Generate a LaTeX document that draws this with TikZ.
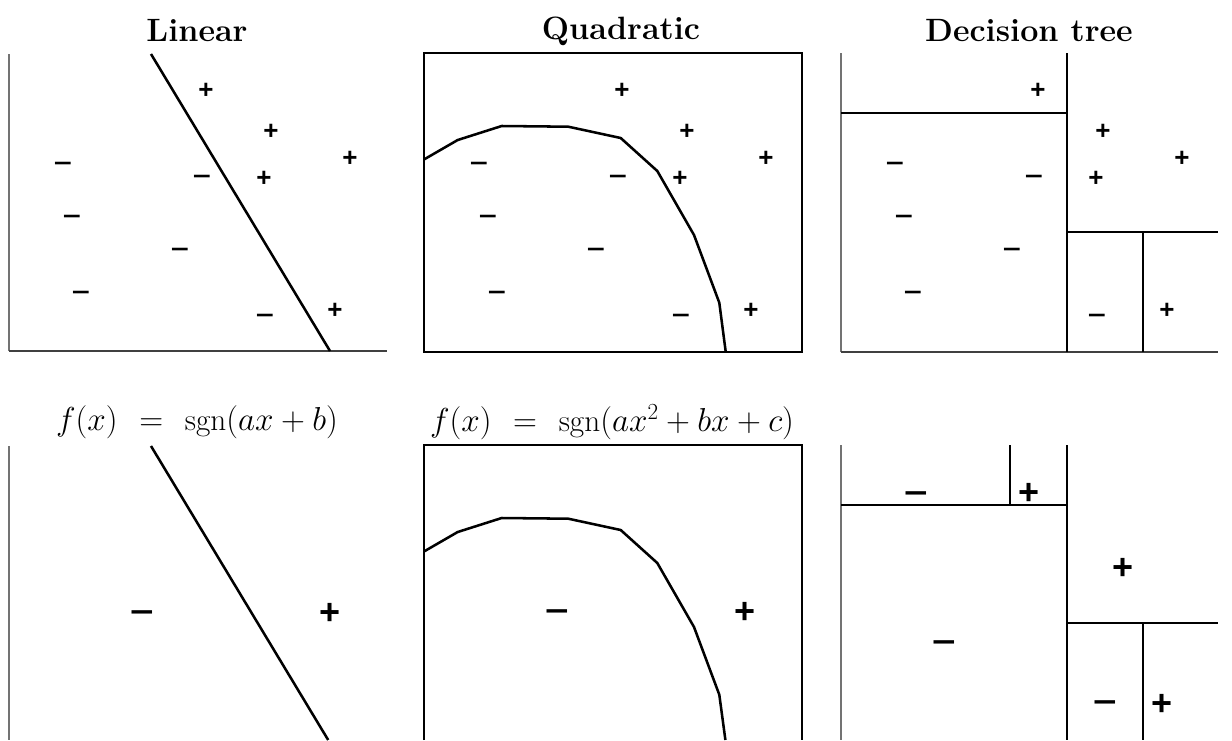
\documentclass[tikz,border=0pt]{standalone}
\usepackage{fontspec}
\newfontfamily\pmfont{Liberation Sans}
\newfontfamily\mnfont[FakeStretch=1.22]{Liberation Sans}
\begin{document}
\begin{tikzpicture}[x=0.75pt,y=-0.75pt,
  pl/.style={font=\fontsize{19.5}{24}\selectfont\pmfont\bfseries, inner sep=0pt, text height=13.7pt, text depth=0pt},
  mn/.style={font=\fontsize{19.5}{24}\selectfont\mnfont\bfseries, inner sep=0pt, text height=10.7pt, text depth=0pt},
  plbig/.style={font=\fontsize{27}{32}\selectfont\pmfont\bfseries, inner sep=0pt, text height=19pt, text depth=0pt},
  mnbig/.style={font=\fontsize{25.5}{30}\selectfont\mnfont\bfseries, inner sep=0pt, text height=14pt, text depth=0pt},
  ttl/.style={font=\fontsize{24.2}{28}\selectfont\bfseries, inner sep=0pt},
  fml/.style={font=\fontsize{23.4}{28}\selectfont, inner sep=0pt},
  axl/.style={draw=black!55, line width=1.1pt},
  axb/.style={draw=black!75, line width=1.1pt},
  bnd/.style={draw=black, line width=1.9pt, line join=round},
  frame/.style={draw=black, line width=1pt},
  cut/.style={draw=black, line width=1.8pt}]
\useasboundingbox (0,0) rectangle (1232,740);

% ---------- titles ----------
\node[ttl] (t1) at (197,31) {Linear};
\node[ttl] (t2) at (621,31) {Quadratic};
\node[ttl] (t3) at (1029,31) {Decision tree};

% ---------- top row: Linear ----------
\draw[axl] (9,54) -- (9,351);
\draw[axb] (9,351) -- (387,351);
\draw[bnd] (151,54) -- (330,351);

% ---------- top row: Quadratic ----------
\draw[frame] (424,53) rectangle (802,352);
\draw[bnd] (424.3,159.3) -- (457.7,140) -- (501.7,126) -- (568.3,126.7) -- (620.7,138)
  -- (657.3,171) -- (694,235) -- (719.3,302.7) -- (725.7,351.7);

% ---------- top row: Decision tree ----------
\draw[axl] (841,53) -- (841,352);
\draw[axb] (841,352) -- (1218,352);
\draw[cut] (1067,53) -- (1067,352);
\draw[cut] (841,113) -- (1067,113);
\draw[cut] (1067,232) -- (1218,232);
\draw[cut] (1143,232) -- (1143,352);

% ---------- sample points (repeated in the three top panels) ----------
\foreach \dx/\p in {0/a,416/b,832/c}{
  \node[pl] (\p p1) at (206+\dx,89)  {+};
  \node[pl] (\p p2) at (271+\dx,130) {+};
  \node[pl] (\p p3) at (350+\dx,157) {+};
  \node[pl] (\p p4) at (264+\dx,177) {+};
  \node[pl] (\p p5) at (335+\dx,309) {+};
  \node[mn] (\p m1) at (63+\dx,163)  {–};
  \node[mn] (\p m2) at (72+\dx,216)  {–};
  \node[mn] (\p m3) at (180+\dx,249) {–};
  \node[mn] (\p m4) at (81+\dx,292)  {–};
  \node[mn] (\p m5) at (202+\dx,176) {–};
  \node[mn] (\p m6) at (265+\dx,315) {–};
}

% ---------- formulas ----------
\node[fml] (f1) at (197,422) {$f(x)\hspace{0.4em}=\hspace{0.4em}\mathrm{sgn}(ax+b)$};
\node[fml] (f2) at (612,422) {$f(x)\hspace{0.4em}=\hspace{0.4em}\mathrm{sgn}(ax^2+bx+c)$};

% ---------- bottom row: Linear ----------
\draw[axl] (9,446) -- (9,740);
\draw[bnd] (151,446) -- (328.2,740);
\node[mnbig] (lm) at (142,612) {–};
\node[plbig] (lp) at (330,612) {+};

% ---------- bottom row: Quadratic ----------
\draw[frame] (424,740) -- (424,445) -- (802,445) -- (802,740);
\draw[bnd] (424.3,551.3) -- (457.7,532) -- (501.7,518) -- (568.3,518.7) -- (620.7,530)
  -- (657.3,563) -- (694,627) -- (719.3,694.7) -- (725.4,740);
\node[mnbig] (qm) at (557,611) {–};
\node[plbig] (qp) at (745,611) {+};

% ---------- bottom row: Decision tree ----------
\draw[axl] (841,445) -- (841,740);
\draw[cut] (1067,445) -- (1067,740);
\draw[cut] (841,505) -- (1067,505);
\draw[cut] (1010,445) -- (1010,505);
\draw[cut] (1067,623) -- (1218,623);
\draw[cut] (1143,623) -- (1143,740);
\node[mnbig] (dm1) at (916,493) {–};
\node[plbig] (dp1) at (1029,492) {+};
\node[plbig] (dp2) at (1123,567) {+};
\node[mnbig] (dm2) at (944,642) {–};
\node[mnbig] (dm3) at (1105,702) {–};
\node[plbig] (dp3) at (1162,703) {+};
\end{tikzpicture}
\end{document}
